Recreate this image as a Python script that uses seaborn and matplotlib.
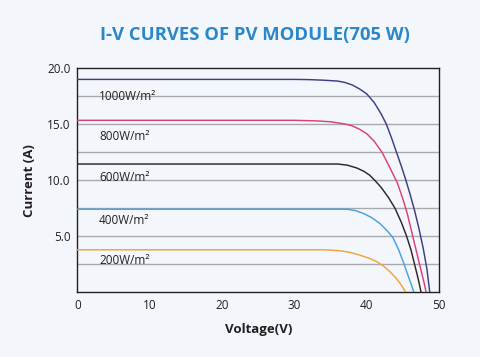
import matplotlib
matplotlib.use('Agg')
import matplotlib.pyplot as plt
import pandas as pd
import seaborn as sns

# irradiance levels and I-V readings (voltage V, current A)
levels = ['1000W/m²', '800W/m²', '600W/m²', '400W/m²', '200W/m²']

v1000 = [0, 30, 32, 34, 36, 37, 38, 39, 40, 41, 42, 42.7, 43.4, 44.1, 44.8, 45.4, 46.0,
         46.6, 47.2, 47.8, 48.3, 48.7]
i1000 = [19.0, 19.0, 18.98, 18.93, 18.85, 18.72, 18.5, 18.15, 17.7, 16.95, 15.9, 15.0, 13.8,
         12.5, 11.2, 10.0, 8.7, 7.3, 5.7, 3.9, 2.1, 0]

v800 = [0, 30, 33, 35, 37, 38, 39, 40, 41, 42.1, 43.2, 44.2, 45.0, 45.6, 46.2, 46.8, 47.4,
        47.9, 48.2]
i800 = [15.35, 15.35, 15.3, 15.22, 15.02, 14.85, 14.55, 14.15, 13.5, 12.5, 11.1, 9.8, 8.3,
        7.0, 5.4, 3.8, 2.2, 0.9, 0]

v600 = [0, 36.0, 37.3, 38.6, 39.6, 40.4, 41.1, 42.0, 43.0, 43.9, 44.8, 45.5, 46.1, 46.6,
        47.1, 47.5]
i600 = [11.45, 11.45, 11.35, 11.1, 10.8, 10.45, 10.0, 9.35, 8.45, 7.5, 6.2, 5.0, 3.8, 2.5,
        1.2, 0]

v400 = [0, 37.2, 38.4, 39.5, 40.6, 41.8, 42.8, 43.6, 44.4, 45.1, 45.7, 46.2, 46.5]
i400 = [7.42, 7.42, 7.3, 7.05, 6.7, 6.15, 5.5, 4.9, 3.8, 2.6, 1.5, 0.6, 0]

v200 = [0, 34, 36.3, 37.8, 39.0, 40.3, 41.4, 42.4, 43.2, 44.0, 44.6, 45.0, 45.4]
i200 = [3.8, 3.8, 3.72, 3.55, 3.33, 3.05, 2.73, 2.3, 1.84, 1.3, 0.8, 0.4, 0]

label_y = [17.5, 13.95, 10.27, 6.37, 2.82]
colors = ['#3f3c86', '#d9407a', '#2e2626', '#4a9fdf', '#f0a43c']

frames = []
for name, v, i in zip(levels, [v1000, v800, v600, v400, v200],
                      [i1000, i800, i600, i400, i200]):
    frames.append(pd.DataFrame({'Voltage': v, 'Current': i, 'Irradiance': name}))
df = pd.concat(frames, ignore_index=True)

bg = '#f3f7fb'
ink = '#231f20'
sns.set_style('white')
plt.rcParams['font.family'] = ['Open Sans', 'DejaVu Sans']

fig = plt.figure(figsize=(4.8, 3.57), dpi=100, facecolor=bg)
ax = fig.add_axes([0.161, 0.181, 0.754, 0.628])
ax.set_facecolor(bg)

for y in [2.5, 5, 7.5, 10, 12.5, 15, 17.5]:
    ax.axhline(y, color='#a9a9a9', linewidth=1.0, zorder=1)

sns.lineplot(data=df, x='Voltage', y='Current', hue='Irradiance', palette=colors,
             sort=False, linewidth=1.05, legend=False, ax=ax, zorder=3)

for name, y in zip(levels, label_y):
    ax.text(3.0, y, name, fontsize=8.5, color=ink, va='center', ha='left', zorder=4)

ax.set_xlim(0, 50)
ax.set_ylim(0, 20)
ax.set_xticks([0, 10, 20, 30, 40, 50])
ax.set_yticks([5, 10, 15, 20])
ax.set_yticklabels(['5.0', '10.0', '15.0', '20.0'])
ax.tick_params(length=0, labelsize=8.5, colors=ink, pad=5)
for s in ax.spines.values():
    s.set_color(ink)
    s.set_linewidth(1.0)

ax.set_xlabel('Voltage(V)', fontsize=9.5, fontweight='bold', color=ink, labelpad=8)
ax.set_ylabel('Current (A)', fontsize=9.5, fontweight='bold', color=ink, labelpad=8)

fig.text(0.531, 0.902, 'I-V CURVES OF PV MODULE(705 W)', fontsize=13.3, fontweight='bold',
         color='#2a87c9', ha='center', va='center')

fig.savefig('out.png', dpi=100, facecolor=bg)
